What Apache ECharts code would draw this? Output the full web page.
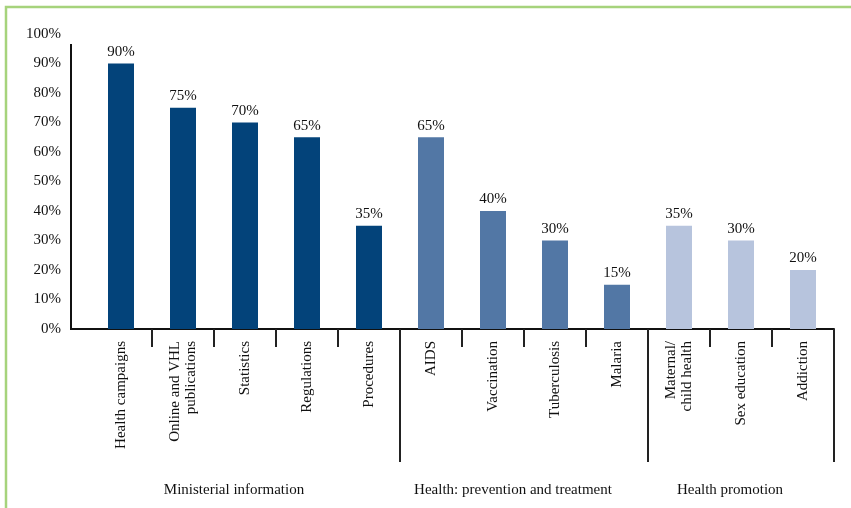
<!DOCTYPE html>
<html>
<head>
<meta charset="utf-8">
<script src="https://cdn.jsdelivr.net/npm/echarts@6/dist/echarts.min.js"></script>
<style>
  html, body { margin: 0; padding: 0; background: #fff; }
  #chart { width: 851px; height: 508px; }
</style>
</head>
<body>
<div id="chart"></div>
<script>
// Topics and the share of each, grouped by area
const categories = [
  'Health campaigns', 'Online and VHL\npublications', 'Statistics', 'Regulations', 'Procedures',
  'AIDS', 'Vaccination', 'Tuberculosis', 'Malaria',
  'Maternal/\nchild health', 'Sex education', 'Addiction'
];
const values = [90, 75, 70, 65, 35, 65, 40, 30, 15, 35, 30, 20];
const groupOf = [0, 0, 0, 0, 0, 1, 1, 1, 1, 2, 2, 2];
const groupNames = ['Ministerial information', 'Health: prevention and treatment', 'Health promotion'];
const groupSizes = [5, 4, 3];
const yTicks = [0, 10, 20, 30, 40, 50, 60, 70, 80, 90, 100];

const groupColors = ['#03437a', '#5277a5', '#b7c4dd'];
const serif = '"Liberation Serif", "DejaVu Serif", serif';

// group boundaries and centres along the category axis (in category units)
const bounds = [];
const centres = [];
let acc = 0;
groupSizes.forEach(n => { centres.push(acc + n / 2); acc += n; bounds.push(acc); });
// short separators between neighbouring categories
const innerTicks = categories.slice(1).map((_, i) => i + 1);

const chart = echarts.init(document.getElementById('chart'), null, { renderer: 'canvas' });

const GRID_LEFT = 90, GRID_TOP = 34, GRID_W = 744, GRID_H = 295;
const Y_OFFSET = 19;

const layerAxis = (ticks, len, extra) => Object.assign({
  type: 'value', position: 'bottom', min: 0, max: categories.length,
  axisLine: { show: false },
  splitLine: { show: false },
  axisTick: { show: true, length: len, customValues: ticks, lineStyle: { color: '#222', width: 2 } },
  axisLabel: { show: false }
}, extra || {});

chart.setOption({
  animation: false,
  backgroundColor: '#fff',
  grid: { left: GRID_LEFT, top: GRID_TOP, width: GRID_W, height: GRID_H },
  xAxis: [
    {
      type: 'category',
      data: categories,
      axisLine: { lineStyle: { color: '#111', width: 2 } },
      axisTick: { show: false },
      axisLabel: {
        interval: 0, rotate: 90, margin: 12,
        fontFamily: serif, fontSize: 15, color: '#111', lineHeight: 16
      }
    },
    layerAxis(innerTicks, 18),
    layerAxis(bounds, 133, {
      axisLabel: {
        show: true, customValues: centres, margin: 154, padding: [0, 22, 0, 0],
        fontFamily: serif, fontSize: 15, color: '#111',
        formatter: v => groupNames[centres.indexOf(v)] || ''
      }
    })
  ],
  yAxis: {
    type: 'value', min: 0, max: 100, interval: 10, offset: Y_OFFSET,
    axisLine: { show: false },
    axisTick: { show: false },
    splitLine: { show: false },
    axisLabel: {
      margin: 10, fontFamily: serif, fontSize: 15, color: '#111',
      formatter: v => yTicks.includes(v) ? v + '%' : ''
    }
  },
  series: [{
    type: 'bar',
    barWidth: 26,
    data: values.map((v, i) => ({ value: v, itemStyle: { color: groupColors[groupOf[i]] } })),
    label: {
      show: true, position: 'top', distance: 4,
      fontFamily: serif, fontSize: 15, color: '#111',
      formatter: p => p.value + '%'
    }
  }],
  graphic: [
    // frame around the figure
    { type: 'rect', shape: { x: 6, y: 7, width: 900, height: 600 }, style: { fill: null, stroke: '#a6d37c', lineWidth: 2.5 }, silent: true },
    // value axis line, stopping a little below the top label
    { type: 'line', shape: { x1: GRID_LEFT - Y_OFFSET, y1: GRID_TOP + 10, x2: GRID_LEFT - Y_OFFSET, y2: GRID_TOP + GRID_H + 1 }, style: { stroke: '#111', lineWidth: 2 }, silent: true },
    // extend the baseline to the offset value axis
    { type: 'line', shape: { x1: GRID_LEFT - Y_OFFSET - 1, y1: GRID_TOP + GRID_H, x2: GRID_LEFT, y2: GRID_TOP + GRID_H }, style: { stroke: '#111', lineWidth: 2 }, silent: true }
  ]
});
</script>
</body>
</html>
